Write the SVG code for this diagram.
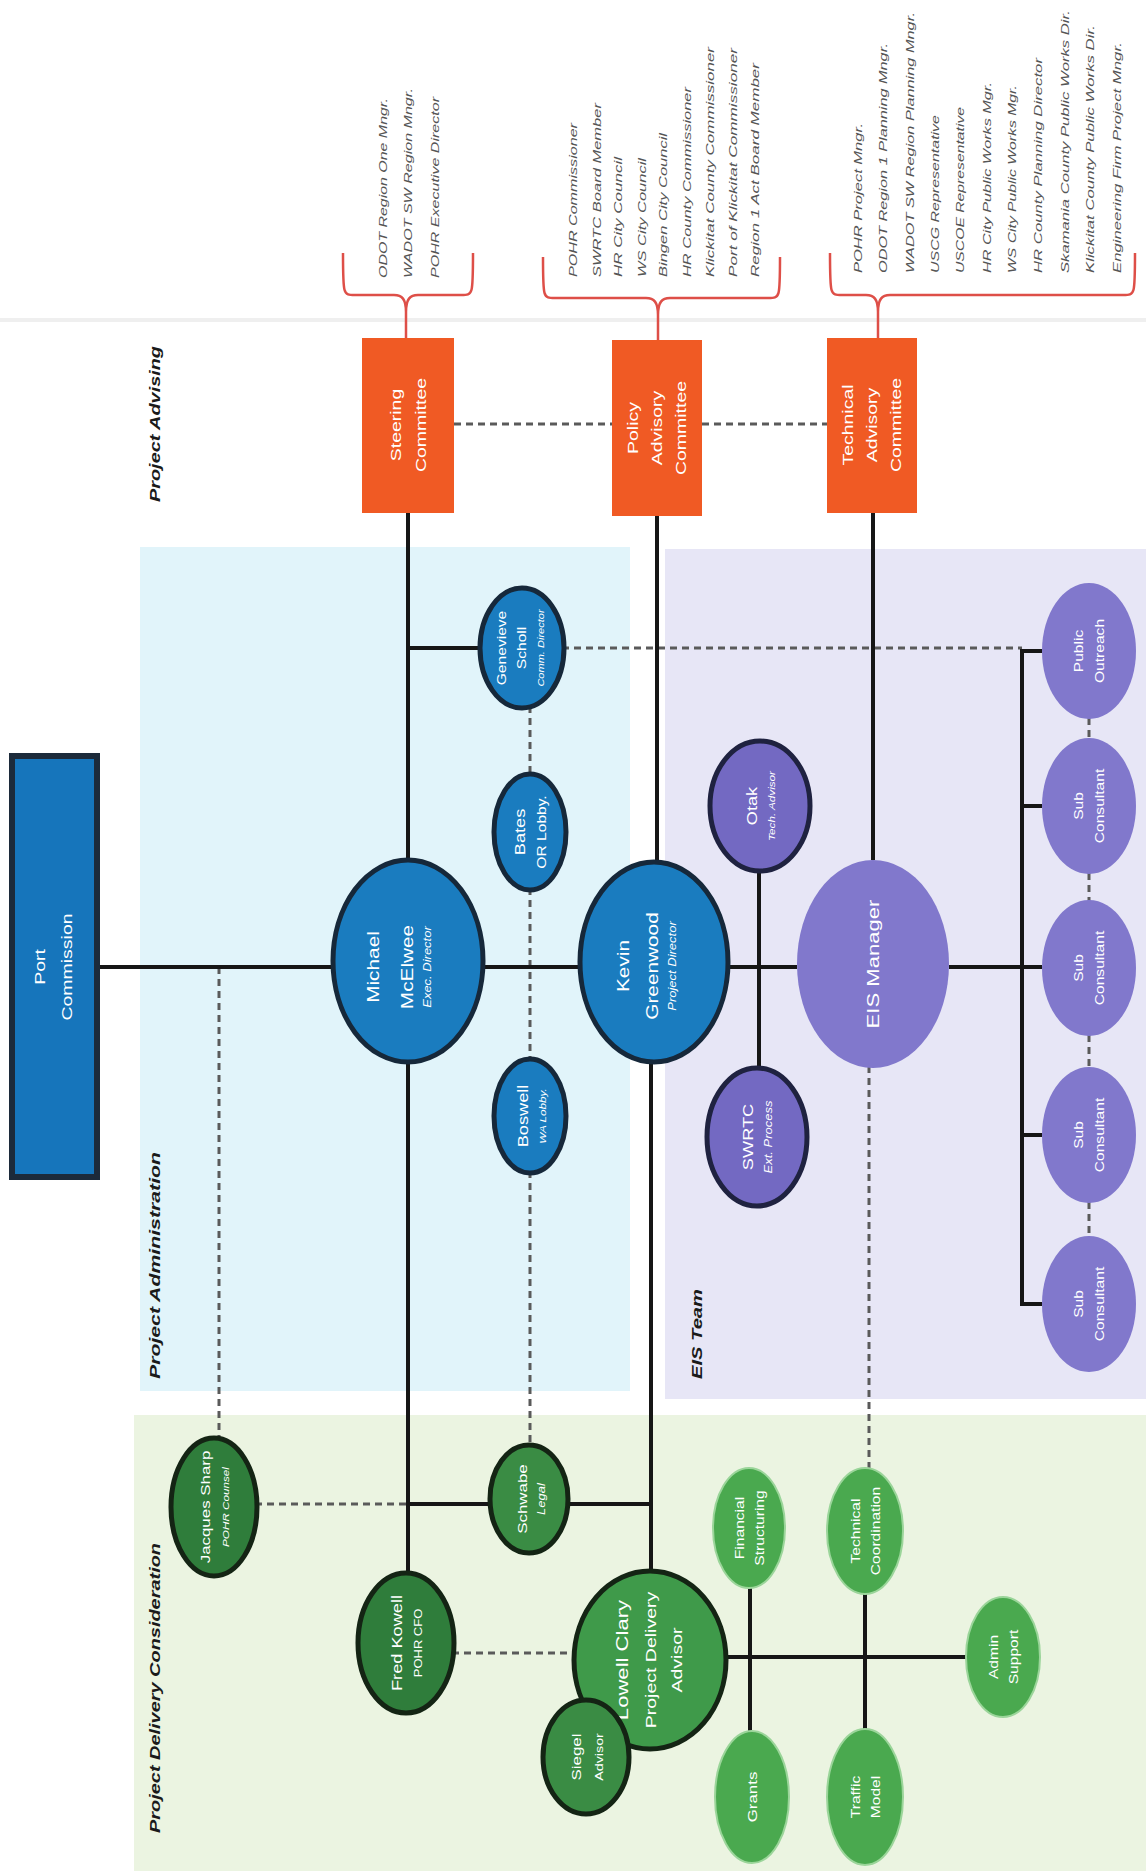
<svg xmlns="http://www.w3.org/2000/svg" width="1146" height="1871" viewBox="0 0 1146 1871">
<defs>
<style>
.solid{stroke:#161616;stroke-width:4;fill:none}
.dash{stroke:#5a5a5a;stroke-width:3;fill:none;stroke-dasharray:7 5}
.brace{stroke:#de4f48;stroke-width:2.5;fill:none}
.ann{font-family:"Liberation Sans",Arial,sans-serif;font-size:11.5px;font-style:italic;fill:#555}
.lbl{font-family:"Liberation Sans",Arial,sans-serif;font-size:15px;font-style:italic;font-weight:bold;fill:#1a1a1a}
.nt{font-family:"Liberation Sans",Arial,sans-serif;fill:#fff;text-anchor:middle}
.sub{font-style:italic}
.blue{fill:#1a7cbf;stroke:#16283a;stroke-width:5}
.purpleB{fill:#7369c2;stroke:#1f2240;stroke-width:5}
.purple{fill:#8178cc}
.dgreen{fill:#2f7d3b;stroke:#142414;stroke-width:5}
.lgreen{fill:#4aa94f;stroke:#9bd59a;stroke-width:2}
.orange{fill:#f05a24}
</style>
</defs>
<rect width="1146" height="1871" fill="#fff"/>
<line x1="0" y1="320" x2="1146" y2="320" stroke="#efefef" stroke-width="4"/>
<g id="panels">
<rect x="140" y="547" width="490" height="844" fill="#e1f4fa"/>
<rect x="665" y="549" width="481" height="850" fill="#e7e6f6"/>
<rect x="134" y="1415" width="1012" height="456" fill="#ebf4e1"/>
</g>
<g id="panel-labels">
<text class="lbl" transform="translate(160,502) rotate(-90)" textLength="156" lengthAdjust="spacingAndGlyphs">Project Advising</text>
<text class="lbl" transform="translate(160,1379) rotate(-90)" textLength="227" lengthAdjust="spacingAndGlyphs">Project Administration</text>
<text class="lbl" transform="translate(702,1379) rotate(-90)" textLength="90" lengthAdjust="spacingAndGlyphs">EIS Team</text>
<text class="lbl" transform="translate(160,1833) rotate(-90)" textLength="290" lengthAdjust="spacingAndGlyphs">Project Delivery Consideration</text>
</g>
<g id="annotations">
<path class="brace" d="M343,253 C343,295 343,295 355,295 L394,295 C402,295 406,299 406,312 M406,312 C406,299 410,295 418,295 L461,295 C473,295 473,295 473,253 M406,312 L406,338"/>
<path class="brace" d="M543,257 C543,298 543,298 555,298 L646,298 C654,298 658,302 658,315 M658,315 C658,302 662,298 670,298 L768,298 C780,298 780,298 780,257 M658,315 L658,340"/>
<path class="brace" d="M830,253 C830,295 830,295 842,295 L866,295 C874,295 878,299 878,312 M878,312 C878,299 882,295 890,295 L1123,295 C1135,295 1135,295 1135,253 M878,312 L878,338"/>
<text class="ann" transform="translate(387,278) rotate(-90)" textLength="180" lengthAdjust="spacingAndGlyphs">ODOT Region One Mngr.</text>
<text class="ann" transform="translate(412,278) rotate(-90)" textLength="190" lengthAdjust="spacingAndGlyphs">WADOT SW Region Mngr.</text>
<text class="ann" transform="translate(439,278) rotate(-90)" textLength="181" lengthAdjust="spacingAndGlyphs">POHR Executive Director</text>
<text class="ann" transform="translate(577,277) rotate(-90)" textLength="154" lengthAdjust="spacingAndGlyphs">POHR Commissioner</text>
<text class="ann" transform="translate(601,277) rotate(-90)" textLength="174" lengthAdjust="spacingAndGlyphs">SWRTC Board Member</text>
<text class="ann" transform="translate(622,277) rotate(-90)" textLength="120" lengthAdjust="spacingAndGlyphs">HR City Council</text>
<text class="ann" transform="translate(646,277) rotate(-90)" textLength="119" lengthAdjust="spacingAndGlyphs">WS City Council</text>
<text class="ann" transform="translate(667,277) rotate(-90)" textLength="144" lengthAdjust="spacingAndGlyphs">Bingen City Council</text>
<text class="ann" transform="translate(691,277) rotate(-90)" textLength="190" lengthAdjust="spacingAndGlyphs">HR County Commissioner</text>
<text class="ann" transform="translate(714,277) rotate(-90)" textLength="230" lengthAdjust="spacingAndGlyphs">Klickitat County Commissioner</text>
<text class="ann" transform="translate(737,277) rotate(-90)" textLength="229" lengthAdjust="spacingAndGlyphs">Port of Klickitat Commissioner</text>
<text class="ann" transform="translate(759,277) rotate(-90)" textLength="214" lengthAdjust="spacingAndGlyphs">Region 1 Act Board Member</text>
<text class="ann" transform="translate(862,273) rotate(-90)" textLength="150" lengthAdjust="spacingAndGlyphs">POHR Project Mngr.</text>
<text class="ann" transform="translate(887,273) rotate(-90)" textLength="230" lengthAdjust="spacingAndGlyphs">ODOT Region 1 Planning Mngr.</text>
<text class="ann" transform="translate(914,273) rotate(-90)" textLength="261" lengthAdjust="spacingAndGlyphs">WADOT SW Region Planning Mngr.</text>
<text class="ann" transform="translate(939,273) rotate(-90)" textLength="158" lengthAdjust="spacingAndGlyphs">USCG Representative</text>
<text class="ann" transform="translate(964,273) rotate(-90)" textLength="166" lengthAdjust="spacingAndGlyphs">USCOE Representative</text>
<text class="ann" transform="translate(991,273) rotate(-90)" textLength="191" lengthAdjust="spacingAndGlyphs">HR City Public Works Mgr.</text>
<text class="ann" transform="translate(1016,273) rotate(-90)" textLength="188" lengthAdjust="spacingAndGlyphs">WS City Public Works Mgr.</text>
<text class="ann" transform="translate(1042,273) rotate(-90)" textLength="215" lengthAdjust="spacingAndGlyphs">HR County Planning Director</text>
<text class="ann" transform="translate(1069,273) rotate(-90)" textLength="263" lengthAdjust="spacingAndGlyphs">Skamania County Public Works Dir.</text>
<text class="ann" transform="translate(1094,273) rotate(-90)" textLength="248" lengthAdjust="spacingAndGlyphs">Klickitat County Public Works Dir.</text>
<text class="ann" transform="translate(1121,273) rotate(-90)" textLength="231" lengthAdjust="spacingAndGlyphs">Engineering Firm Project Mngr.</text>
</g>
<g id="connectors">
<line class="dash" x1="454" y1="424" x2="612" y2="424"/>
<line class="dash" x1="702" y1="424" x2="827" y2="424"/>
<line class="dash" x1="562" y1="648" x2="1022" y2="648"/>
<line class="dash" x1="530" y1="706" x2="530" y2="776"/>
<line class="dash" x1="530" y1="888" x2="530" y2="1061"/>
<line class="dash" x1="530" y1="1171" x2="530" y2="1446"/>
<line class="dash" x1="219" y1="967" x2="219" y2="1440"/>
<line class="dash" x1="255" y1="1504" x2="408" y2="1504"/>
<line class="dash" x1="452" y1="1653" x2="576" y2="1653"/>
<line class="dash" x1="869" y1="1066" x2="869" y2="1470"/>
<line class="dash" x1="1089" y1="718" x2="1089" y2="740"/>
<line class="dash" x1="1089" y1="873" x2="1089" y2="902"/>
<line class="dash" x1="1089" y1="1035" x2="1089" y2="1068"/>
<line class="dash" x1="1089" y1="1202" x2="1089" y2="1238"/>
<line class="solid" x1="97" y1="967" x2="334" y2="967"/>
<line class="solid" x1="483" y1="967" x2="580" y2="967"/>
<line class="solid" x1="728" y1="967" x2="797" y2="967"/>
<line class="solid" x1="949" y1="967" x2="1042" y2="967"/>
<line class="solid" x1="408" y1="513" x2="408" y2="860"/>
<line class="solid" x1="408" y1="1062" x2="408" y2="1573"/>
<line class="solid" x1="408" y1="648" x2="482" y2="648"/>
<line class="solid" x1="657" y1="516" x2="657" y2="862"/>
<line class="solid" x1="651" y1="1062" x2="651" y2="1572"/>
<line class="solid" x1="873" y1="513" x2="873" y2="860"/>
<line class="solid" x1="759" y1="871" x2="759" y2="1068"/>
<line class="solid" x1="408" y1="1504" x2="490" y2="1504"/>
<line class="solid" x1="568" y1="1504" x2="651" y2="1504"/>
<line class="solid" x1="1022" y1="649" x2="1022" y2="1306"/>
<line class="solid" x1="1020" y1="651" x2="1042" y2="651"/>
<line class="solid" x1="1020" y1="806" x2="1042" y2="806"/>
<line class="solid" x1="1020" y1="1135" x2="1042" y2="1135"/>
<line class="solid" x1="1020" y1="1304" x2="1042" y2="1304"/>
<line class="solid" x1="726" y1="1657" x2="967" y2="1657"/>
<line class="solid" x1="750" y1="1588" x2="750" y2="1731"/>
<line class="solid" x1="865" y1="1594" x2="865" y2="1729"/>
</g>
<g id="port-commission">
<rect x="12" y="756" width="85" height="421" fill="#1675bb" stroke="#1c2a3a" stroke-width="6"/>
<g class="nt" font-size="15" transform="translate(54,967) rotate(-90) scale(1.3,1)"><text y="-9">Port</text><text y="18">Commission</text></g>
</g>
<g id="steering-committee">
<rect class="orange" x="362" y="338" width="92" height="175"/>
<g class="nt" font-size="15" transform="translate(408,425) rotate(-90) scale(1.3,1)"><text y="-7">Steering</text><text y="18">Committee</text></g>
</g>
<g id="policy-advisory-committee">
<rect class="orange" x="612" y="340" width="90" height="176"/>
<g class="nt" font-size="15" transform="translate(657,428) rotate(-90) scale(1.3,1)"><text y="-19">Policy</text><text y="5">Advisory</text><text y="29">Committee</text></g>
</g>
<g id="technical-advisory-committee">
<rect class="orange" x="827" y="338" width="90" height="175"/>
<g class="nt" font-size="15" transform="translate(872,425) rotate(-90) scale(1.3,1)"><text y="-19">Technical</text><text y="5">Advisory</text><text y="29">Committee</text></g>
</g>
<g id="michael-mcelwee">
<ellipse class="blue" cx="408" cy="961" rx="75" ry="101"/>
<g class="nt" transform="translate(408,967) rotate(-90) scale(1.3,1)"><text y="-29" font-size="16">Michael</text><text y="5" font-size="16">McElwee</text><text y="23" font-size="10" class="sub">Exec. Director</text></g>
</g>
<g id="kevin-greenwood">
<ellipse class="blue" cx="654" cy="962" rx="74" ry="100"/>
<g class="nt" transform="translate(654,966) rotate(-90) scale(1.3,1)"><text y="-25" font-size="16">Kevin</text><text y="4" font-size="16">Greenwood</text><text y="22" font-size="10" class="sub">Project Director</text></g>
</g>
<g id="genevieve-scholl">
<ellipse class="blue" cx="522" cy="648" rx="42" ry="60"/>
<g class="nt" transform="translate(522,648) rotate(-90) scale(1.3,1)"><text y="-16" font-size="12">Genevieve</text><text y="4" font-size="12">Scholl</text><text y="22" font-size="8.5" class="sub">Comm. Director</text></g>
</g>
<g id="bates">
<ellipse class="blue" cx="530" cy="832" rx="36" ry="58"/>
<g class="nt" transform="translate(530,832) rotate(-90) scale(1.3,1)"><text y="-5" font-size="14">Bates</text><text y="16" font-size="12">OR Lobby.</text></g>
</g>
<g id="boswell">
<ellipse class="blue" cx="530" cy="1116" rx="36" ry="57"/>
<g class="nt" transform="translate(530,1116) rotate(-90) scale(1.3,1)"><text y="-2" font-size="14">Boswell</text><text y="16" font-size="9" class="sub">WA Lobby.</text></g>
</g>
<g id="otak">
<ellipse class="purpleB" cx="760" cy="806" rx="50" ry="65"/>
<g class="nt" transform="translate(760,806) rotate(-90) scale(1.3,1)"><text y="-3" font-size="14">Otak</text><text y="15" font-size="9" class="sub">Tech. Advisor</text></g>
</g>
<g id="swrtc">
<ellipse class="purpleB" cx="757" cy="1137" rx="50" ry="69"/>
<g class="nt" transform="translate(757,1137) rotate(-90) scale(1.3,1)"><text y="-4" font-size="14">SWRTC</text><text y="15" font-size="10" class="sub">Ext. Process</text></g>
</g>
<g id="eis-manager">
<ellipse class="purple" cx="873" cy="964" rx="76" ry="104"/>
<g class="nt" transform="translate(873,964) rotate(-90) scale(1.3,1)"><text y="6" font-size="17">EIS Manager</text></g>
</g>
<g id="public-outreach">
<ellipse class="purple" cx="1089" cy="651" rx="47" ry="68"/>
<g class="nt" font-size="12" transform="translate(1089,651) rotate(-90) scale(1.3,1)"><text y="-6">Public</text><text y="15">Outreach</text></g>
</g>
<g id="sub-consultant-1">
<ellipse class="purple" cx="1089" cy="806" rx="47" ry="68"/>
<g class="nt" font-size="12" transform="translate(1089,806) rotate(-90) scale(1.3,1)"><text y="-6">Sub</text><text y="15">Consultant</text></g>
</g>
<g id="sub-consultant-2">
<ellipse class="purple" cx="1089" cy="968" rx="47" ry="68"/>
<g class="nt" font-size="12" transform="translate(1089,968) rotate(-90) scale(1.3,1)"><text y="-6">Sub</text><text y="15">Consultant</text></g>
</g>
<g id="sub-consultant-3">
<ellipse class="purple" cx="1089" cy="1135" rx="47" ry="68"/>
<g class="nt" font-size="12" transform="translate(1089,1135) rotate(-90) scale(1.3,1)"><text y="-6">Sub</text><text y="15">Consultant</text></g>
</g>
<g id="sub-consultant-4">
<ellipse class="purple" cx="1089" cy="1304" rx="47" ry="68"/>
<g class="nt" font-size="12" transform="translate(1089,1304) rotate(-90) scale(1.3,1)"><text y="-6">Sub</text><text y="15">Consultant</text></g>
</g>
<g id="jacques-sharp">
<ellipse class="dgreen" cx="214" cy="1507" rx="43" ry="69" fill="#266a31"/>
<g class="nt" transform="translate(214,1507) rotate(-90) scale(1.3,1)"><text y="-4" font-size="13">Jacques Sharp</text><text y="15" font-size="9" class="sub">POHR Counsel</text></g>
</g>
<g id="fred-kowell">
<ellipse class="dgreen" cx="406" cy="1643" rx="48" ry="70"/>
<g class="nt" transform="translate(406,1643) rotate(-90) scale(1.3,1)"><text y="-4" font-size="14">Fred Kowell</text><text y="16" font-size="10">POHR CFO</text></g>
</g>
<g id="schwabe">
<ellipse class="dgreen" cx="529" cy="1499" rx="39" ry="54" style="fill:#3a8c44"/>
<g class="nt" transform="translate(529,1499) rotate(-90) scale(1.3,1)"><text y="-2" font-size="13">Schwabe</text><text y="16" font-size="10" class="sub">Legal</text></g>
</g>
<g id="lowell-clary">
<ellipse class="dgreen" cx="650" cy="1660" rx="76" ry="89" style="fill:#3f9a4a"/>
<g class="nt" transform="translate(650,1660) rotate(-90) scale(1.3,1)"><text y="-22" font-size="17">Lowell Clary</text><text y="6" font-size="15">Project Delivery</text><text y="32" font-size="15">Advisor</text></g>
</g>
<g id="siegel">
<ellipse class="dgreen" cx="586" cy="1757" rx="43" ry="57" style="fill:#3a8c44"/>
<g class="nt" transform="translate(586,1757) rotate(-90) scale(1.3,1)"><text y="-5" font-size="13">Siegel</text><text y="17" font-size="11">Advisor</text></g>
</g>
<g id="financial-structuring">
<ellipse class="lgreen" cx="749" cy="1528" rx="36" ry="60"/>
<g class="nt" font-size="12" transform="translate(749,1528) rotate(-90) scale(1.3,1)"><text y="-5">Financial</text><text y="15">Structuring</text></g>
</g>
<g id="grants">
<ellipse class="lgreen" cx="752" cy="1797" rx="37" ry="66"/>
<g class="nt" font-size="13" transform="translate(752,1797) rotate(-90) scale(1.3,1)"><text y="5">Grants</text></g>
</g>
<g id="technical-coordination">
<ellipse class="lgreen" cx="865" cy="1531" rx="38" ry="63"/>
<g class="nt" font-size="12" transform="translate(865,1531) rotate(-90) scale(1.3,1)"><text y="-5">Technical</text><text y="15">Coordination</text></g>
</g>
<g id="traffic-model">
<ellipse class="lgreen" cx="865" cy="1797" rx="38" ry="68"/>
<g class="nt" font-size="12" transform="translate(865,1797) rotate(-90) scale(1.3,1)"><text y="-5">Traffic</text><text y="15">Model</text></g>
</g>
<g id="admin-support">
<ellipse class="lgreen" cx="1003" cy="1657" rx="37" ry="60"/>
<g class="nt" font-size="12" transform="translate(1003,1657) rotate(-90) scale(1.3,1)"><text y="-5">Admin</text><text y="15">Support</text></g>
</g>
</svg>
